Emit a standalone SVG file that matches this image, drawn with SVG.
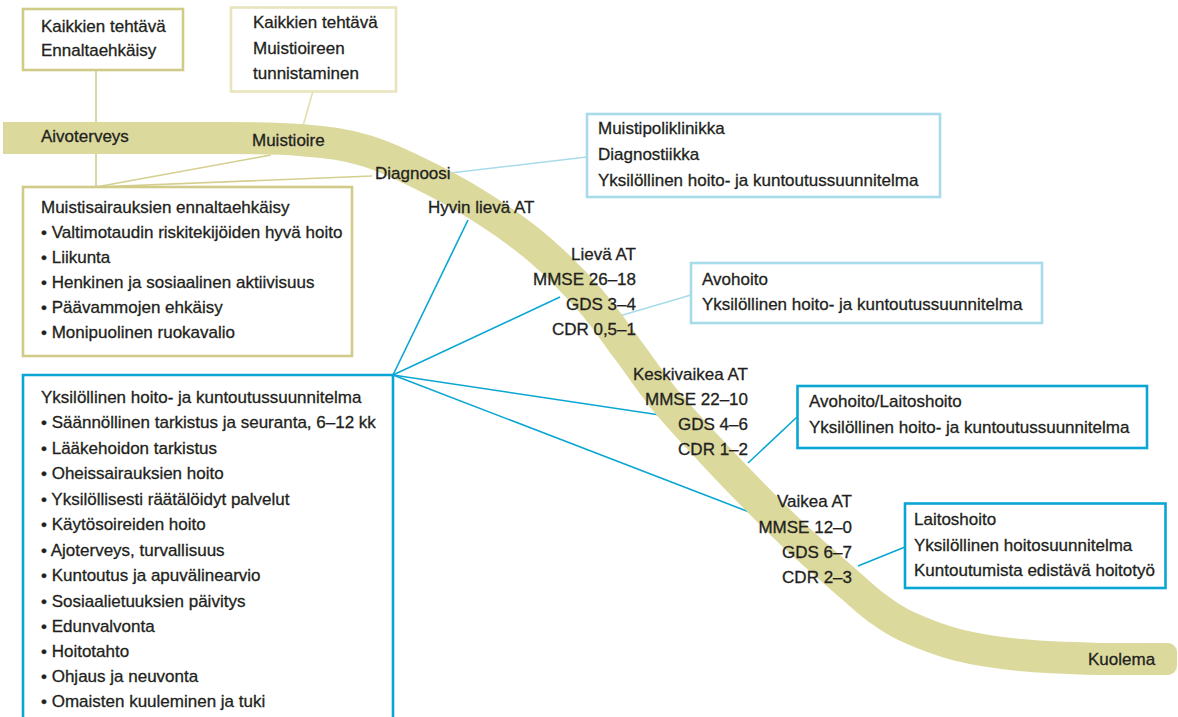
<svg xmlns="http://www.w3.org/2000/svg" width="1178" height="717" viewBox="0 0 1178 717">
<style>
text{font-family:"Liberation Sans",Arial,sans-serif;font-size:17px;fill:#231f20;stroke:#231f20;stroke-width:0.3}
.r{text-anchor:end}
.bo{fill:#fff;stroke:#d0cb88;stroke-width:2.6}
.bl{fill:#fff;stroke:#e8e5bd;stroke-width:2.6}
.bb{fill:#fff;stroke:#0aa6d3;stroke-width:2.6}
.bc{fill:#fff;stroke:#a8dbea;stroke-width:2.6}
.co{stroke:#d4cf8e;stroke-width:1.6;fill:none}
.cl{stroke:#e3dfae;stroke-width:1.6;fill:none}
.cb{stroke:#0aa6d3;stroke-width:1.6;fill:none}
.cc{stroke:#a8dbea;stroke-width:1.6;fill:none}
</style>
<rect width="1178" height="717" fill="#fff"/>
<g id="connectors">
<line class="co" x1="96" y1="70" x2="96" y2="187"/>
<line class="co" x1="96" y1="187" x2="271" y2="155"/>
<line class="co" x1="96" y1="187" x2="372" y2="176"/>
<line class="cl" x1="313" y1="91" x2="303" y2="126"/>
<line class="cc" x1="450" y1="173" x2="587" y2="157"/>
<line class="cb" x1="393" y1="375" x2="468" y2="220"/>
<line class="cb" x1="393" y1="375" x2="560" y2="297"/>
<line class="cb" x1="393" y1="375" x2="660" y2="415"/>
<line class="cb" x1="393" y1="375" x2="757" y2="515"/>
<line class="cc" x1="691" y1="295" x2="616" y2="317"/>
<line class="cb" x1="797" y1="417" x2="748" y2="463"/>
<line class="cb" x1="905" y1="547" x2="858" y2="566"/>
</g>
<g id="band">
<path d="M3 138 L200 138 C249.5 138.3 272.2 137.8 300 140 C327.8 142.2 344.8 144.3 367 151 C389.2 157.7 412.5 169.7 433 180 C453.5 190.3 472.2 201.3 490 213 C507.8 224.7 523.3 235.5 540 250 C556.7 264.5 575.3 283.3 590 300 C604.7 316.7 615.5 333.3 628 350 C640.5 366.7 651.3 383.3 665 400 C678.7 416.7 694.5 433.3 710 450 C725.5 466.7 743 484.8 758 500 C773 515.2 784.5 526.7 800 541 C815.5 555.3 838.2 574.8 851 586 C863.8 597.2 867.8 601.3 877 608 C886.2 614.7 892.5 619.8 906 626 C919.5 632.2 939 640.2 958 645 C977 649.8 996.3 652.7 1020 655 C1043.7 657.3 1075.8 658.3 1100 659 L1165 659" fill="none" stroke="#dcd99d" stroke-width="32"/>
<rect x="1150" y="643" width="27" height="32" rx="9" fill="#dcd99d"/>
</g>
<g id="stage-labels">
<text x="41" y="142">Aivoterveys</text>
<text x="252" y="146">Muistioire</text>
<text x="375" y="179">Diagnoosi</text>
<text x="428" y="213">Hyvin lievä AT</text>
</g>
<g id="stage-lieva">
<text class="r" x="636" y="260">Lievä AT</text>
<text class="r" x="636" y="285">MMSE 26–18</text>
<text class="r" x="636" y="310">GDS 3–4</text>
<text class="r" x="636" y="335">CDR 0,5–1</text>
</g>
<g id="stage-keskivaikea">
<text class="r" x="748" y="380">Keskivaikea AT</text>
<text class="r" x="748" y="405">MMSE 22–10</text>
<text class="r" x="748" y="430">GDS 4–6</text>
<text class="r" x="748" y="455">CDR 1–2</text>
</g>
<g id="stage-vaikea">
<text class="r" x="852" y="507">Vaikea AT</text>
<text class="r" x="852" y="533">MMSE 12–0</text>
<text class="r" x="852" y="558">GDS 6–7</text>
<text class="r" x="852" y="583">CDR 2–3</text>
</g>
<g id="stage-kuolema">
<text x="1088" y="665">Kuolema</text>
</g>
<g id="box-ennaltaehkaisy">
<rect class="bo" x="23" y="9" width="160" height="61"/>
<text x="41" y="32">Kaikkien tehtävä</text>
<text x="41" y="56">Ennaltaehkäisy</text>
</g>
<g id="box-tunnistaminen">
<rect class="bl" x="231" y="7.5" width="165" height="84"/>
<text x="253" y="28">Kaikkien tehtävä</text>
<text x="253" y="54">Muistioireen</text>
<text x="253" y="79">tunnistaminen</text>
</g>
<g id="box-muistisairauksien">
<rect class="bo" x="23" y="187" width="329" height="169"/>
<text x="41" y="213">Muistisairauksien ennaltaehkäisy</text>
<text x="41" y="238">• Valtimotaudin riskitekijöiden hyvä hoito</text>
<text x="41" y="263">• Liikunta</text>
<text x="41" y="288">• Henkinen ja sosiaalinen aktiivisuus</text>
<text x="41" y="313">• Päävammojen ehkäisy</text>
<text x="41" y="338">• Monipuolinen ruokavalio</text>
</g>
<g id="box-muistipoliklinikka">
<rect class="bc" x="587" y="114" width="353" height="83"/>
<text x="598" y="134">Muistipoliklinikka</text>
<text x="598" y="160">Diagnostiikka</text>
<text x="598" y="186">Yksilöllinen hoito- ja kuntoutussuunnitelma</text>
</g>
<g id="box-avohoito">
<rect class="bc" x="691" y="263" width="351" height="60"/>
<text x="702" y="285">Avohoito</text>
<text x="702" y="310">Yksilöllinen hoito- ja kuntoutussuunnitelma</text>
</g>
<g id="box-avohoito-laitoshoito">
<rect class="bb" x="797.5" y="386" width="349.5" height="62"/>
<text x="809" y="407">Avohoito/Laitoshoito</text>
<text x="809" y="433">Yksilöllinen hoito- ja kuntoutussuunnitelma</text>
</g>
<g id="box-laitoshoito">
<rect class="bb" x="905" y="503.5" width="260.5" height="84.5"/>
<text x="914" y="525">Laitoshoito</text>
<text x="914" y="551">Yksilöllinen hoitosuunnitelma</text>
<text x="914" y="576">Kuntoutumista edistävä hoitotyö</text>
</g>
<g id="box-hoitosuunnitelma">
<path d="M23 720 V375 H393 V720" fill="#fff" stroke="#0aa6d3" stroke-width="2.6"/>
<text x="41" y="403">Yksilöllinen hoito- ja kuntoutussuunnitelma</text>
<text x="41" y="428">• Säännöllinen tarkistus ja seuranta, 6–12 kk</text>
<text x="41" y="454">• Lääkehoidon tarkistus</text>
<text x="41" y="479">• Oheissairauksien hoito</text>
<text x="41" y="505">• Yksilöllisesti räätälöidyt palvelut</text>
<text x="41" y="530">• Käytösoireiden hoito</text>
<text x="41" y="556">• Ajoterveys, turvallisuus</text>
<text x="41" y="581">• Kuntoutus ja apuvälinearvio</text>
<text x="41" y="607">• Sosiaalietuuksien päivitys</text>
<text x="41" y="632">• Edunvalvonta</text>
<text x="41" y="657">• Hoitotahto</text>
<text x="41" y="682">• Ohjaus ja neuvonta</text>
<text x="41" y="707">• Omaisten kuuleminen ja tuki</text>
</g>
</svg>
